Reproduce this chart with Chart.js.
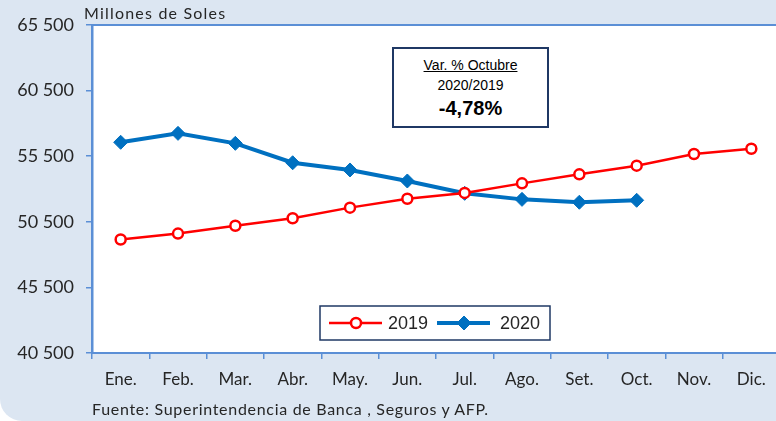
<!DOCTYPE html>
<html>
<head>
<meta charset="utf-8">
<script src="https://cdn.jsdelivr.net/npm/chart.js@4.4.1/dist/chart.umd.min.js"></script>
<style>
  html, body { margin: 0; padding: 0; background: #fff; }
  #wrap { position: relative; width: 776px; height: 421px; overflow: hidden; }
  #panel { position: absolute; left: 0; top: 0; width: 776px; height: 421px;
           background: #dce6f2; border-bottom-left-radius: 22px; }
  #chart { position: absolute; left: 0; top: 0; }
  .unit { position: absolute; left: 84px; top: 3px; font: 16px Lato, sans-serif; letter-spacing: 1.2px; color: #262626; }
  .source { position: absolute; left: 92px; top: 399px; font: 16px Lato, sans-serif; letter-spacing: 0.7px; color: #262626; }
  .note { position: absolute; left: 392px; top: 47px; width: 153px; height: 77px;
          border: 2px solid #1f3864; background: #fff; text-align: center;
          font-family: "Liberation Sans", Arial, sans-serif; color: #000; }
  .note .l1 { font-size: 14px; text-decoration: underline; margin-top: 7px; line-height: 18px; }
  .note .l2 { font-size: 14px; line-height: 22px; }
  .note .l3 { font-size: 20px; font-weight: bold; line-height: 24px; }
</style>
</head>
<body>
<div id="wrap">
  <div id="panel"></div>
  <canvas id="chart" width="788" height="421"></canvas>
  <div class="unit">Millones de Soles</div>
  <div class="note">
    <div class="l1">Var. % Octubre</div>
    <div class="l2">2020/2019</div>
    <div class="l3">-4,78%</div>
  </div>
  <div class="source">Fuente: Superintendencia de Banca , Seguros y AFP.</div>
</div>
<script>
// data
const months = ["Ene.", "Feb.", "Mar.", "Abr.", "May.", "Jun.", "Jul.", "Ago.", "Set.", "Oct.", "Nov.", "Dic."];
const values2019 = [49150, 49600, 50200, 50770, 51580, 52260, 52700, 53430, 54120, 54780, 55670, 56070];
const values2020 = [56560, 57240, 56480, 55000, 54450, 53610, 52670, 52210, 51990, 52140];
const yTicks = [40500, 45500, 50500, 55500, 60500, 65500];

const axisBlue = "#5b8fd6";

// white plot area + top border of the frame
const plotFrame = {
  id: "plotFrame",
  beforeDraw(chart) {
    const { ctx, chartArea: a } = chart;
    ctx.save();
    ctx.fillStyle = "#fff";
    ctx.fillRect(a.left, a.top, a.right - a.left, a.bottom - a.top);
    ctx.strokeStyle = axisBlue;
    ctx.lineWidth = 2;
    ctx.beginPath();
    ctx.moveTo(a.left, a.top);
    ctx.lineTo(a.right, a.top);
    ctx.stroke();
    ctx.restore();
  }
};

// boxed legend inside the plot, like the original
const boxLegend = {
  id: "boxLegend",
  afterDraw(chart) {
    const ctx = chart.ctx;
    const x0 = 320, y0 = 306, w = 230, h = 34, cy = y0 + h / 2;
    ctx.save();
    ctx.fillStyle = "#fff";
    ctx.fillRect(x0, y0, w, h);
    ctx.strokeStyle = "#1f3864";
    ctx.lineWidth = 1.5;
    ctx.strokeRect(x0, y0, w, h);
    const items = [
      { ds: chart.data.datasets[0], lx: 329, tx: 388 },
      { ds: chart.data.datasets[1], lx: 437, tx: 500 }
    ];
    items.forEach(it => {
      const ds = it.ds;
      ctx.strokeStyle = ds.borderColor;
      ctx.lineWidth = ds.borderWidth;
      ctx.beginPath();
      ctx.moveTo(it.lx, cy);
      ctx.lineTo(it.lx + 53, cy);
      ctx.stroke();
      ctx.fillStyle = ds.pointBackgroundColor;
      ctx.strokeStyle = ds.pointBorderColor;
      ctx.lineWidth = ds.pointBorderWidth;
      Chart.helpers.drawPoint(ctx, {
        pointStyle: ds.pointStyle,
        radius: ds.pointRadius,
        borderWidth: ds.pointBorderWidth
      }, it.lx + 27, cy);
      ctx.fillStyle = "#262626";
      ctx.font = "18px 'Liberation Sans', Arial, sans-serif";
      ctx.textBaseline = "middle";
      ctx.textAlign = "left";
      ctx.fillText(ds.label, it.tx, cy + 1);
    });
    ctx.restore();
  }
};

new Chart(document.getElementById("chart"), {
  type: "line",
  data: {
    labels: months,
    datasets: [
      {
        label: "2019",
        data: values2019,
        borderColor: "#ff0000",
        borderWidth: 2.5,
        pointStyle: "circle",
        pointRadius: 5,
        pointBorderWidth: 2.5,
        pointBackgroundColor: "#fff",
        pointBorderColor: "#ff0000",
        tension: 0
      },
      {
        label: "2020",
        data: values2020,
        borderColor: "#0070c0",
        borderWidth: 4,
        pointStyle: "rectRot",
        pointRadius: 7,
        pointBorderWidth: 1,
        pointBackgroundColor: "#0070c0",
        pointBorderColor: "#0070c0",
        tension: 0
      }
    ]
  },
  options: {
    responsive: false,
    animation: false,
    layout: { padding: { top: 25, right: 1, bottom: 0, left: 0 } },
    plugins: { legend: { display: false }, tooltip: { enabled: false } },
    scales: {
      x: {
        offset: true,
        afterFit: s => { s.height = 68; },
        grid: { drawOnChartArea: false, tickLength: 6, color: axisBlue, lineWidth: 1.5, offset: true },
        border: { color: axisBlue, width: 2 },
        ticks: { color: "#262626", padding: 10, font: { family: "Lato", size: 17 }, maxRotation: 0, autoSkip: false }
      },
      y: {
        min: 40500,
        max: 65500,
        afterFit: s => { s.width = 92; },
        afterBuildTicks: s => { s.ticks = yTicks.map(v => ({ value: v })); },
        grid: { drawOnChartArea: false, tickLength: 6, color: axisBlue, lineWidth: 1.5 },
        border: { color: axisBlue, width: 2.5 },
        ticks: {
          color: "#262626",
          padding: 12,
          font: { family: "Lato", size: 18 },
          callback: v => String(v).replace(/\B(?=(\d{3})+(?!\d))/g, " ")
        }
      }
    }
  },
  plugins: [plotFrame, boxLegend]
});
</script>
</body>
</html>
